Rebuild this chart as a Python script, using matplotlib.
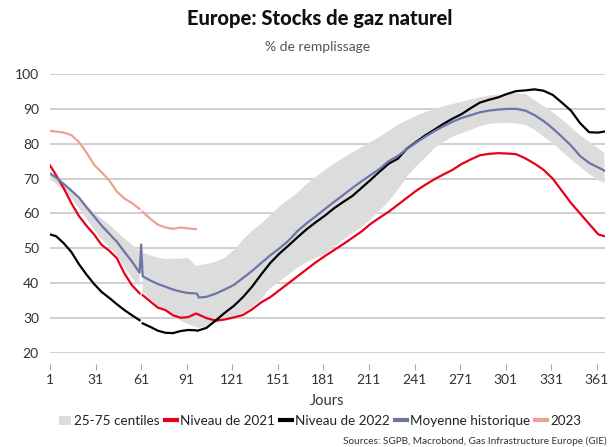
import numpy as np
import matplotlib
matplotlib.use("Agg")
import matplotlib.pyplot as plt
from matplotlib.patches import Patch
from matplotlib.lines import Line2D

plt.rcParams['font.family'] = ['Lato', 'DejaVu Sans']

nan = np.nan

days = [1, 5, 10, 15, 20, 25, 30, 35, 40, 45, 50, 55, 60, 61, 62, 67, 72, 77, 82, 87,
        92, 97, 98, 99, 104, 110, 116, 122, 128, 134, 140, 146, 152, 158, 164, 170,
        176, 182, 188, 194, 200, 206, 212, 218, 224, 230, 236, 242, 248, 254, 260,
        266, 272, 278, 284, 290, 296, 302, 308, 314, 320, 326, 332, 338, 344, 350,
        356, 362, 366]

niveau_2021 = [73.8, 71, 67.3, 63, 59.3, 56.5, 54, 51, 49.3, 47.2, 42.8, 39.4, 37.1, nan,
               36.6, 34.8, 33, 32.3, 30.8, 30.1, 30.3, 31.3, 31.2, 31, 30, 29.3, 29.6, 30.2,
               30.9, 32.5, 34.5, 36, 38, 40, 42, 44, 46, 47.8, 49.5, 51.2, 53, 54.8, 57,
               58.8, 60.5, 62.5, 64.5, 66.5, 68.2, 69.8, 71.2, 72.5, 74.2, 75.5, 76.7, 77.1,
               77.3, 77.2, 77, 75.8, 74.3, 72.5, 70, 66.5, 63, 60, 57, 54, 53.5]

niveau_2022 = [54, 53.5, 51.5, 49, 45.5, 42.5, 39.8, 37.5, 35.8, 34, 32.3, 30.8, 29.4, nan,
               28.5, 27.5, 26.4, 25.8, 25.7, 26.3, 26.6, 26.5, 26.4, 26.5, 27.2, 29.3, 31.5,
               33.5, 36, 39, 42.5, 45.8, 48.5, 50.8, 53.2, 55.5, 57.5, 59.4, 61.5, 63.3, 65,
               67.3, 69.6, 72, 74.3, 75.7, 78.6, 80.5, 82.4, 84, 85.7, 87.2, 88.5, 90.2,
               91.8, 92.6, 93.3, 94.3, 95.1, 95.3, 95.6, 95.2, 94, 91.8, 89.5, 85.9, 83.3,
               83.2, 83.5]

moyenne = [71.5, 70.3, 68.5, 66.6, 64.6, 61.8, 59.2, 56.5, 54.2, 51.9, 49, 46.2, 43, 51.1,
           42, 40.8, 39.8, 39, 38.2, 37.6, 37.2, 37.1, 36.9, 35.9, 36.1, 37, 38.2, 39.5,
           41.5, 43.5, 45.8, 48, 50, 52.2, 55, 57.2, 59.2, 61.3, 63.3, 65.3, 67.3, 69.2,
           71, 72.8, 75, 76.5, 78.5, 80.3, 82, 83.6, 85, 86.3, 87.4, 88.2, 89, 89.5, 89.8,
           90, 90, 89.5, 88.2, 86.5, 84.4, 82, 79.5, 76.5, 74.5, 73.2, 72.3]

niveau_2023 = [83.7, 83.5, 83.2, 82.5, 80.5, 77.5, 74, 71.8, 69.5, 66.3, 64.3, 63, 61.3, nan,
               60.5, 58.5, 56.8, 56, 55.6, 56, 55.7, 55.5] + [nan] * 47

centile_25 = [70, 68.5, 66.5, 64.5, 61.5, 58.5, 55.5, 52.5, 50.5, 48, 44.5, 41.5, 39, nan,
              37.5, 35.5, 33.5, 32, 30.5, 29.3, 28.3, 27.4, 27.3, 27.2, 27.6, 28.5, 29.5,
              30.5, 31.5, 33, 35.5, 38.5, 40.5, 42.5, 44.5, 46, 47.3, 48.3, 50.5, 52.5,
              54.3, 56, 58.3, 60.8, 63.5, 66.8, 70.5, 73.5, 76, 78.7, 80.5, 82, 83, 84, 85,
              85.7, 85.9, 86, 85.8, 85.4, 84, 82, 80.1, 77.8, 75.5, 73.4, 71.3, 69.5, 68.7]

centile_75 = [71.5, 70, 68, 66.5, 65, 62.5, 60.2, 58.5, 56.8, 54.8, 52.8, 51, 49.3, nan,
              48.8, 48, 47.3, 47, 47, 47.1, 47.2, 45, 45, 45.2, 45.5, 46.2, 47.3, 49.5,
              52.5, 55, 57, 59.5, 62, 64, 66, 68.5, 70.5, 72.5, 74.3, 76, 77.5, 79, 80.5,
              82, 83.7, 85.5, 86.7, 88, 89, 89.9, 90.7, 91.4, 92, 92.7, 93.3, 93.8, 94,
              94.3, 94.5, 94.3, 92.5, 90.8, 89, 87, 84.7, 82.5, 80.5, 78.7, 77.3]

x_ticks = [1, 31, 61, 91, 121, 151, 181, 211, 241, 271, 301, 331, 361]
y_ticks = [20, 30, 40, 50, 60, 70, 80, 90, 100]

c_band = '#dcdcdc'
c_2021 = '#e8001c'
c_2022 = '#000000'
c_moy = '#6b75a6'
c_2023 = '#f0a093'

fig = plt.figure(figsize=(6.1, 4.47), dpi=100)
ax = fig.add_axes([50 / 610, 1 - 353 / 447, 555 / 610, 279 / 447])

ax.fill_between(days, centile_25, centile_75, color=c_band, linewidth=0)
ax.plot(days, niveau_2021, color=c_2021, lw=1.6)
ax.plot(days, niveau_2022, color=c_2022, lw=1.6)
ax.plot(days, moyenne, color=c_moy, lw=1.6)
ax.plot(days, niveau_2023, color=c_2023, lw=1.6)

ax.set_xlim(1, 366.4)
ax.set_ylim(20, 100)
ax.set_xticks(x_ticks)
ax.set_yticks(y_ticks)
ax.yaxis.grid(True, color='#cccccc', lw=1.3)
ax.set_axisbelow(True)
for s in ['top', 'right', 'left']:
    ax.spines[s].set_visible(False)
ax.spines['bottom'].set_position(('outward', 8))
ax.spines['bottom'].set_visible(False)
ax.tick_params(axis='y', length=0, pad=8, labelsize=10, labelcolor='#333333')
ax.tick_params(axis='x', length=4, color='#aaaaaa', pad=3, labelsize=10, labelcolor='#333333')

ax.set_xlabel('Jours', fontsize=10.5, color='#333333', labelpad=6)

fig.text(320 / 610, 1 - 18 / 447, 'Europe: Stocks de gaz naturel', ha='center', va='center',
         fontsize=14.5, fontweight='black', color='#111111')
fig.text(318 / 610, 1 - 47 / 447, '% de remplissage', ha='center', va='center',
         fontsize=10, color='#555555')

handles = [Patch(facecolor=c_band, edgecolor='none'),
           Line2D([], [], color=c_2021, lw=3),
           Line2D([], [], color=c_2022, lw=3),
           Line2D([], [], color=c_moy, lw=3),
           Line2D([], [], color=c_2023, lw=3)]
labels = ['25-75 centiles', 'Niveau de 2021', 'Niveau de 2022', 'Moyenne historique', '2023']
fig.legend(handles, labels, loc='center', bbox_to_anchor=(320 / 610, 1 - 421 / 447), ncol=5,
           frameon=False, fontsize=9.7, handlelength=0.9, handleheight=0.6,
           handletextpad=0.2, columnspacing=0.4, labelcolor='#222222')

fig.text(607 / 610, 1 - 441 / 447, 'Sources: SGPB, Macrobond, Gas Infrastructure Europe (GIE)',
         ha='right', va='center', fontsize=7.2, color='#333333')

fig.savefig('out.png', dpi=100)
